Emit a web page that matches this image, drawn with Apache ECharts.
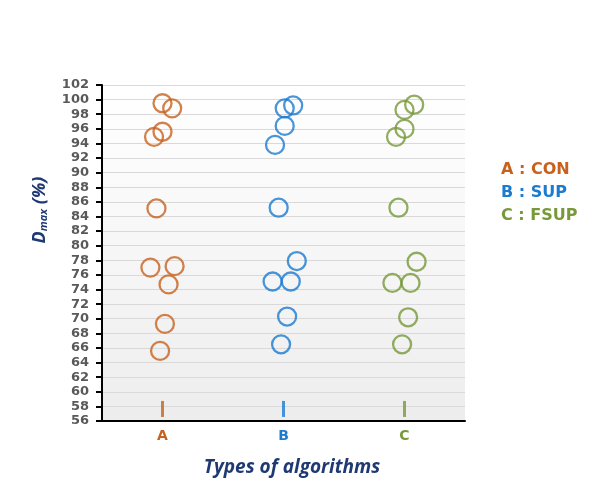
<!DOCTYPE html>
<html>
<head>
<meta charset="utf-8">
<script src="https://cdn.jsdelivr.net/npm/echarts@6/dist/echarts.min.js"></script>
<style>
  html, body { margin: 0; padding: 0; background: #ffffff; }
  #chart { width: 606px; height: 481px; }
</style>
</head>
<body>
<div id="chart"></div>
<script>
// Category names and their legend descriptions
const categories = ['A', 'B', 'C'];
const categoryNames = ['CON', 'SUP', 'FSUP'];
const colors = ['#C8611E', '#1B7BCF', '#77993A'];

// Y-axis range and tick step (%)
const yMin = 56, yMax = 102, yStep = 2;

// Dmax values (%) per algorithm type, with horizontal jitter positions
const conX = [1.00, 1.08, 1.00, 0.93, 0.95, 0.90, 1.10, 1.05, 1.02, 0.98];
const conY = [99.5, 98.8, 95.6, 94.9, 85.1, 77.0, 77.2, 74.7, 69.3, 65.6];
const supX = [2.01, 2.08, 2.01, 1.93, 1.96, 2.11, 1.91, 2.06, 2.03, 1.98];
const supY = [98.8, 99.2, 96.4, 93.8, 85.2, 77.9, 75.1, 75.1, 70.3, 66.5];
const fsupX = [3.00, 3.08, 3.00, 2.93, 2.95, 3.10, 2.90, 3.05, 3.03, 2.98];
const fsupY = [98.6, 99.3, 96.0, 94.9, 85.2, 77.8, 74.9, 74.9, 70.2, 66.5];

// Short coloured category markers just above the x axis
const markerY = 57.65;

const groups = [[conX, conY], [supX, supY], [fsupX, fsupY]];
const navy = '#1F3A73';

const series = [];
groups.forEach(function (g, i) {
  series.push({
    type: 'scatter',
    name: categories[i],
    data: g[0].map(function (x, k) { return [x, g[1][k]]; }),
    symbol: 'circle',
    symbolSize: 18,
    itemStyle: { color: 'rgba(0,0,0,0)', borderColor: colors[i], borderWidth: 2.3 },
    z: 3
  });
});
series.push({
  type: 'scatter',
  name: 'markers',
  data: categories.map(function (c, i) {
    return { value: [i + 1, markerY], itemStyle: { color: colors[i] } };
  }),
  symbol: 'rect',
  symbolSize: [3, 16],
  z: 3
});

const titleFont = { fontFamily: 'Open Sans', fontStyle: 'italic', fontWeight: 'bold', fill: navy };

const chart = echarts.init(document.getElementById('chart'), null, { renderer: 'canvas' });
chart.setOption({
  animation: false,
  backgroundColor: '#ffffff',
  grid: {
    left: 102, right: 141, top: 85, bottom: 60,
    show: true,
    borderWidth: 0,
    backgroundColor: new echarts.graphic.LinearGradient(0, 0, 0, 1, [
      { offset: 0, color: '#FFFFFF' },
      { offset: 0.25, color: '#FBFBFB' },
      { offset: 1, color: '#EDEDED' }
    ])
  },
  xAxis: {
    type: 'value',
    min: 0.5, max: 3.5,
    interval: 0.5,
    axisLine: { show: true, onZero: false, lineStyle: { color: '#000000', width: 2 } },
    axisTick: { show: false },
    splitLine: { show: false },
    axisLabel: {
      customValues: [1, 2, 3],
      margin: 8,
      formatter: function (v) { return categories[Math.round(v) - 1] || ''; },
      color: function (v) { return colors[Math.round(v) - 1] || '#000'; },
      fontFamily: 'DejaVu Sans',
      fontWeight: 'bold',
      fontSize: 14
    }
  },
  yAxis: {
    type: 'value',
    min: yMin, max: yMax, interval: yStep,
    axisLine: { show: true, lineStyle: { color: '#000000', width: 2 } },
    axisTick: { show: true, length: 6, lineStyle: { color: '#000000', width: 2 } },
    splitLine: { show: true, lineStyle: { color: '#D9D9D9', width: 1 } },
    axisLabel: {
      margin: 13,
      color: '#595959',
      fontFamily: 'DejaVu Sans',
      fontWeight: 'bold',
      fontSize: 13
    }
  },
  graphic: [
    {
      // Y-axis title, rotated, with subscript
      type: 'text', x: 38, y: 210, rotation: Math.PI / 2,
      style: {
        text: '{d|D}{s|max}{d| (%)}',
        align: 'center',
        verticalAlign: 'middle',
        rich: {
          d: Object.assign({ fontSize: 18, lineHeight: 22, verticalAlign: 'bottom' }, titleFont),
          s: Object.assign({ fontSize: 11, lineHeight: 7, verticalAlign: 'bottom' }, titleFont)
        }
      }
    },
    {
      // X-axis title
      type: 'text', x: 292, y: 468,
      style: {
        text: 'Types of algorithms',
        align: 'center',
        verticalAlign: 'middle',
        fill: navy,
        font: 'italic bold 19px "Open Sans"'
      }
    }
  ].concat(categories.map(function (c, i) {
    return {
      type: 'text', x: 501, y: [170, 192.5, 216][i],
      style: {
        text: c + ' : ' + categoryNames[i],
        fill: colors[i],
        verticalAlign: 'middle',
        font: 'bold 16px "DejaVu Sans"'
      }
    };
  })),
  series: series
});
</script>
</body>
</html>
